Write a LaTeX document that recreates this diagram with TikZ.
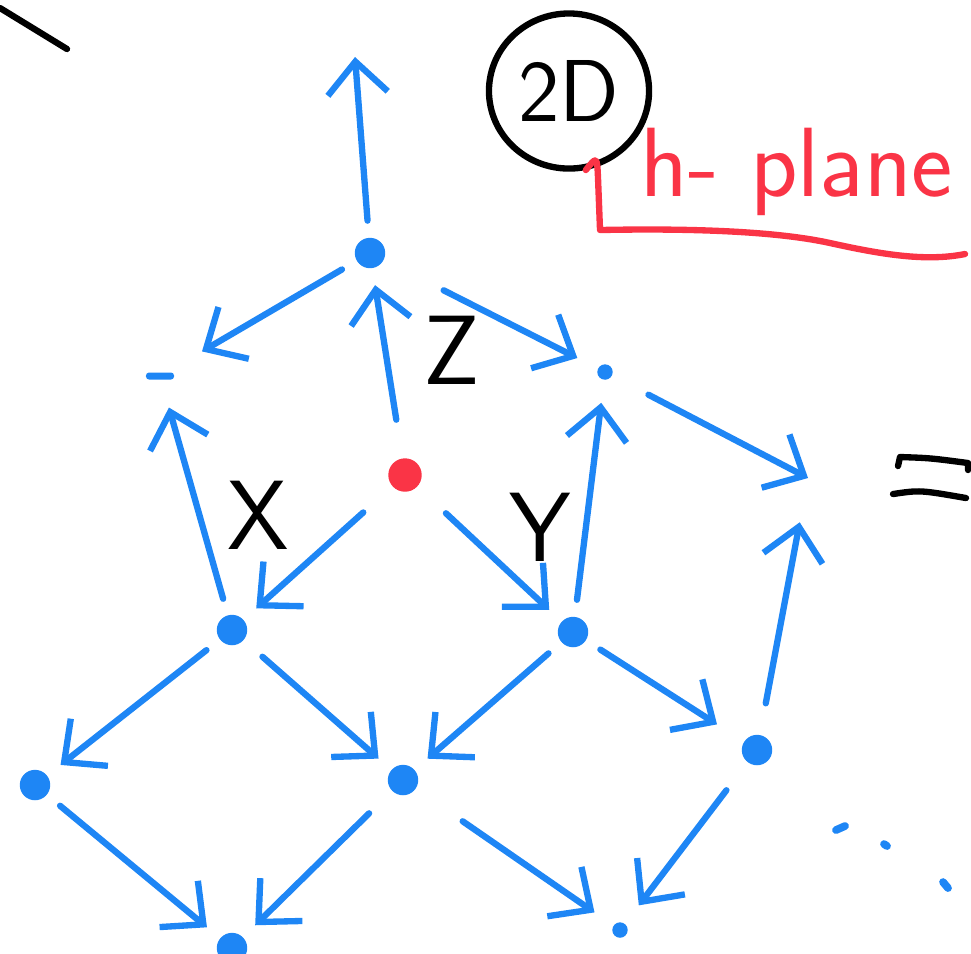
\documentclass[tikz,border=0pt]{standalone}
\usepackage{tikz}
\usetikzlibrary{arrows.meta,positioning,shapes.geometric}
\definecolor{inkBlue}{RGB}{30,134,245}
\definecolor{inkRed}{RGB}{250,52,70}
\tikzset{
  latDot/.style={circle, fill=inkBlue, draw=inkBlue, inner sep=0pt, minimum size=2.9mm, outer sep=1.8mm},
  latSmallDot/.style={latDot, minimum size=1.4mm, outer sep=2.4mm},
  latTick/.style={rectangle, rounded corners=0.3mm, fill=inkBlue, inner sep=0pt, minimum width=2.8mm, minimum height=0.7mm, outer sep=2.8mm},
  latOrigin/.style={circle, fill=inkRed, draw=inkRed, inner sep=0pt, minimum size=3.2mm, outer sep=4mm},
  latHidden/.style={circle, inner sep=0pt, minimum size=0pt, outer sep=0pt},
  latArrow/.style={-{Straight Barb[length=3.2mm, width=6mm]}, inkBlue, line width=1.8pt, line cap=round},
  latLabel/.style={font=\fontsize{28}{32}\selectfont\sffamily},
  latInk/.style={line width=1.8pt, line cap=round, line join=round},
  latSpeck/.style={inkBlue, line width=2.2pt, line cap=round}
}

\begin{document}
\begin{tikzpicture}[x=0.01cm, y=-0.01cm]
  \useasboundingbox (0,0) rectangle (971,953);
  % lattice points
  \node[latDot] (top) at (370,253) {};
  \node[latTick] (leftUp) at (160,376) {};
  \node[latSmallDot] (rightUp) at (605,372) {};
  \node[latHidden] (rightFar) at (808,478) {};
  \node[latOrigin] (origin) at (405,475) {};
  \node[latDot] (xPt) at (232,630) {};
  \node[latDot] (yPt) at (573,632) {};
  \node[latDot] (botLeft) at (35,785) {};
  \node[latDot] (botMid) at (403,780) {};
  \node[latDot] (rightLow) at (757,750) {};
  \node[latDot] (bottom) at (232,948) {};
  \node[latSmallDot] (botRight) at (620,930) {};
  \coordinate (topEnd) at (355,57);
  % axis labels
  \node[latLabel] (zLab) at (452,350) {Z};
  \node[latLabel] (xLab) at (258,515) {X};
  \node[latLabel] (yLab) at (540,527) {Y};
  % arrows
  \draw[latArrow] (top) -- (topEnd);
  \draw[latArrow] (top) -- (leftUp);
  \draw[latArrow, shorten <=5mm] (top) -- (rightUp);
  \draw[latArrow] (origin) -- (top);
  \draw[latArrow] (origin) -- (xPt);
  \draw[latArrow] (origin) -- (yPt);
  \draw[latArrow] (xPt) -- (leftUp);
  \draw[latArrow] (yPt) -- (rightUp);
  \draw[latArrow, shorten <=1.8mm] (rightUp) -- (rightFar);
  \draw[latArrow, shorten <=1.5mm, shorten >=4.5mm] (rightLow) -- (rightFar);
  \draw[latArrow] (xPt) -- (botLeft);
  \draw[latArrow, shorten <=0.8mm] (xPt) -- (botMid);
  \draw[latArrow] (yPt) -- (botMid);
  \draw[latArrow, shorten >=1.5mm] (yPt) -- (rightLow);
  \draw[latArrow] (botLeft) -- (bottom);
  \draw[latArrow, shorten <=1.5mm] (botMid) -- (bottom);
  \draw[latArrow, shorten <=4mm] (botMid) -- (botRight);
  \draw[latArrow, shorten <=1.8mm] (rightLow) -- (botRight);
  % continuation dots
  \draw[latSpeck] (836,830) -- (845,826);
  \draw[latSpeck] (884,844) -- (887,846);
  \draw[latSpeck] (943,882) -- (948,888);
  % annotation
  \draw[latInk] (0,8) -- (67,49);
  \node[draw, ellipse, latInk, inner sep=0pt, minimum width=1.6cm, minimum height=1.55cm, font=\fontsize{25}{28}\selectfont\sffamily] (twoD) at (569,91) {2D};
  \node[font=\fontsize{28}{32}\selectfont\sffamily, text=inkRed, anchor=base west, inner sep=0pt] (hPlane) at (640,196) {h- plane};
  \draw[latInk, inkRed] (twoD.-78) .. controls (597,156) .. (598,178) -- (600,230)
    .. controls (700,228) and (780,232) .. (830,243) .. controls (880,254) and (925,262) .. (965,254);
  \draw[latInk] (898,466) -- (900,457) .. controls (930,458) .. (968,463) -- (968,470);
  \draw[latInk] (893,494) .. controls (920,490) .. (966,498);
\end{tikzpicture}
\end{document}
